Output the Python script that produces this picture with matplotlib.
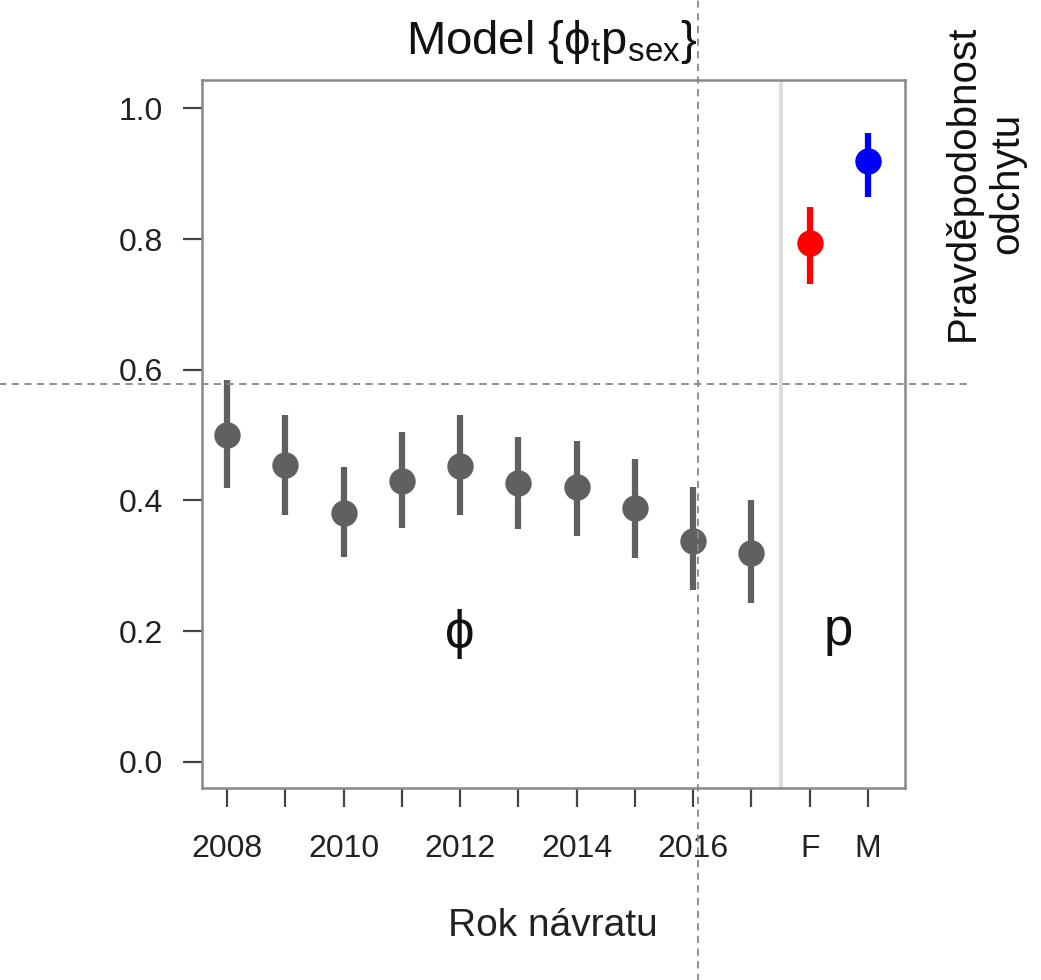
import numpy as np
import matplotlib.pyplot as plt

plt.rcParams['font.family'] = ['Liberation Sans', 'DejaVu Sans']
plt.rcParams['mathtext.fontset'] = 'custom'
plt.rcParams['mathtext.rm'] = 'Liberation Sans'

# survival (phi) by year of return
years = ['2008', '2009', '2010', '2011', '2012', '2013', '2014', '2015', '2016', '2017']
phi = [0.500, 0.454, 0.381, 0.430, 0.453, 0.427, 0.420, 0.388, 0.338, 0.320]
phi_lo = [0.419, 0.378, 0.313, 0.358, 0.378, 0.356, 0.346, 0.312, 0.263, 0.243]
phi_hi = [0.584, 0.531, 0.451, 0.505, 0.531, 0.497, 0.491, 0.463, 0.420, 0.401]

# capture probability (p) by sex
sexes = ['F', 'M']
p = [0.794, 0.920]
p_lo = [0.732, 0.864]
p_hi = [0.849, 0.962]
p_colors = ['#ff0000', '#0000ff']

tick_labels = ['2008', '', '2010', '', '2012', '', '2014', '', '2016', '', 'F', 'M']
ref_y = 0.578
ref_x = 9.08

fig = plt.figure(figsize=(10.41, 9.8), dpi=100)
ax = fig.add_axes([0.194, 0.196, 0.675, 0.722])

x_phi = np.arange(1, len(years) + 1)
x_p = np.arange(len(years) + 1, len(years) + len(sexes) + 1)

gray = '#606060'
ax.vlines(x_phi, phi_lo, phi_hi, color=gray, lw=4.5, zorder=3)
ax.plot(x_phi, phi, 'o', color=gray, ms=18, zorder=4)
for xi, v, lo, hi, c in zip(x_p, p, p_lo, p_hi, p_colors):
    ax.vlines(xi, lo, hi, color=c, lw=4.5, zorder=3)
    ax.plot(xi, v, 'o', color=c, ms=18, zorder=4)

ax.axvline(10.5, color='#dddddd', lw=3, zorder=1)

ax.set_xlim(0.57, 12.63)
ax.set_ylim(-0.04, 1.043)
ax.set_yticks([0.0, 0.2, 0.4, 0.6, 0.8, 1.0])
ax.set_yticklabels(['0.0', '0.2', '0.4', '0.6', '0.8', '1.0'])
ax.set_xticks(np.arange(1, 13))
ax.set_xticklabels(tick_labels)
ax.tick_params(axis='both', direction='out', length=14, width=1.6, color='#444444',
               labelsize=23, labelcolor='#222222')
ax.tick_params(axis='x', pad=19)
ax.tick_params(axis='y', pad=14)
for s in ax.spines.values():
    s.set_color('#888888')
    s.set_linewidth(1.8)

ax.text(5, 0.195, 'ϕ', fontsize=38, ha='center', va='center', color='#111111')
ax.text(11.5, 0.2, 'p', fontsize=38, ha='center', va='center', color='#111111')

ax.set_xlabel('Rok návratu', fontsize=28, color='#222222', labelpad=32)
fig.text(0.53, 0.957, 'Model {ϕ$_{\\mathrm{t}}$p$_{\\mathrm{sex}}$}', fontsize=34,
         ha='center', va='center', color='#111111')
fig.text(0.946, 0.813, 'Pravděpodobnost\nodchytu', fontsize=29, rotation=90,
         ha='center', va='center', multialignment='center', color='#111111',
         linespacing=1.2)

# dashed guide lines running across the whole picture
ax.axhline(ref_y, xmin=-0.29, xmax=1.092, color='#888888', lw=1.3, ls=(0, (4, 3)),
           clip_on=False, zorder=5)
ax.axvline(ref_x, ymin=-0.28, ymax=1.12, color='#888888', lw=1.3, ls=(0, (4, 3)),
           clip_on=False, zorder=5)

fig.savefig('out.png', dpi=100)
